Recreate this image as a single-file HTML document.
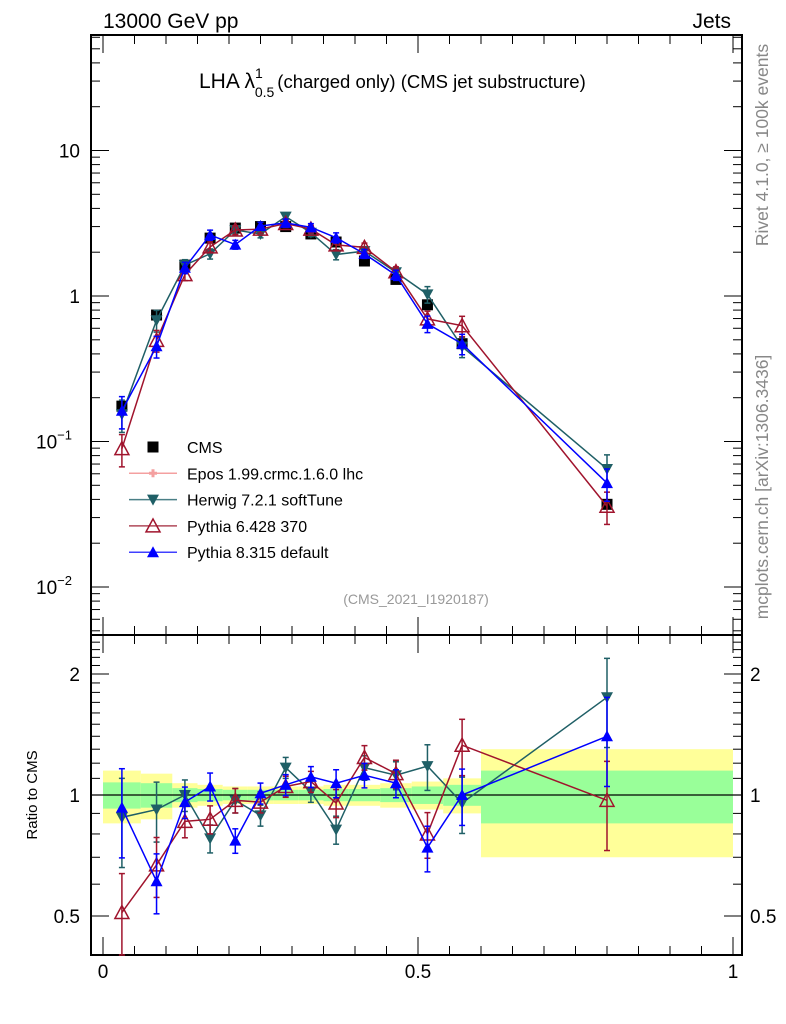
<!DOCTYPE html>
<html><head><meta charset="utf-8"><style>
body{margin:0;background:#fff;font-family:"Liberation Sans",sans-serif}
svg{display:block}
text{font-family:"Liberation Sans",sans-serif}
</style></head><body>
<svg id="c" width="786" height="1024" xmlns="http://www.w3.org/2000/svg"></svg>
<script>
const xCenters=[0.03,0.085,0.13,0.17,0.21,0.25,0.29,0.33,0.37,0.415,0.465,0.515,0.57,0.8];
const binEdges=[0,0.06,0.11,0.15,0.19,0.23,0.27,0.31,0.35,0.39,0.44,0.49,0.54,0.6,1.0];
const cmsValues=[0.175,0.74,1.63,2.5,2.93,3.0,3.0,2.67,2.35,1.74,1.3,0.87,0.47,0.037];
const herwigRatio=[0.88,0.92,1.0,0.78,0.97,0.89,1.17,1.02,0.82,1.17,1.12,1.18,0.955,1.75];
const py6Ratio=[0.51,0.67,0.86,0.87,0.97,0.96,1.05,1.08,0.955,1.24,1.13,0.8,1.33,0.97];
const py8Ratio=[0.93,0.61,0.96,1.05,0.77,1.01,1.06,1.11,1.07,1.12,1.07,0.74,1.0,1.4];
const modelErr=[0.25,0.17,0.09,0.08,0.07,0.06,0.06,0.06,0.08,0.07,0.08,0.13,0.16,0.25];
const yellowHalf=[0.15,0.13,0.07,0.06,0.05,0.05,0.05,0.05,0.06,0.06,0.07,0.08,0.1,0.3];
const greenHalf=[0.075,0.07,0.04,0.035,0.03,0.03,0.03,0.03,0.035,0.035,0.04,0.05,0.06,0.15];
const mainTicks=[{v:10,t:"10"},{v:1,t:"1"},{v:0.1,t:"10",e:"−1"},{v:0.01,t:"10",e:"−2"}];
const ratioTicks=[0.5,1,2];
const xTicks=[0,0.5,1];

const NS="http://www.w3.org/2000/svg";
const svg=document.getElementById('c');
const L=91,R=742,T=35,M=635,B=955;
const X=v=>103+630*v;
const Ym=v=>296-145.5*Math.log10(v);
const Yr=v=>795-121*Math.log2(v);
function el(tag,attrs,parent){const e=document.createElementNS(NS,tag);for(const k in attrs)e.setAttribute(k,attrs[k]);(parent||svg).appendChild(e);return e;}
function txt(s,attrs,parent){const e=el('text',attrs,parent);e.textContent=s;return e;}

const bands=el('g',{});


for(let i=0;i<xCenters.length;i++){
  const x0=X(binEdges[i]),x1=X(binEdges[i+1]);
  const y=el('rect',{x:x0,y:Yr(1+yellowHalf[i]),width:x1-x0,height:Yr(1-yellowHalf[i])-Yr(1+yellowHalf[i]),fill:'#ffff99'},bands);
  
  
  const g=el('rect',{x:x0,y:Yr(1+greenHalf[i]),width:x1-x0,height:Yr(1-greenHalf[i])-Yr(1+greenHalf[i]),fill:'#99ff99'},bands);
  
  
}
el('line',{x1:L,x2:R,y1:Yr(1),y2:Yr(1),stroke:'#000','stroke-width':1.2});

const f1=el('rect',{x:L,y:T,width:R-L,height:M-T,fill:'none',stroke:'#000','stroke-width':2});


const f2=el('rect',{x:L,y:M,width:R-L,height:B-M,fill:'none',stroke:'#000','stroke-width':2});



for(let d=-3;d<=2;d++){for(let k=1;k<10;k++){const v=k*Math.pow(10,d);const y=Ym(v);if(y<T||y>M)continue;const len=k==1?18:9;
el('line',{x1:L,x2:L+len,y1:y,y2:y,stroke:'#000','stroke-width':1});el('line',{x1:R,x2:R-len,y1:y,y2:y,stroke:'#000','stroke-width':1});}}
mainTicks.forEach(t=>{const g=txt(t.t,{x:t.e?72:80,y:Ym(t.v)+7,'font-size':19,'text-anchor':'end'});


if(t.e){const s=el('tspan',{'font-size':13,dy:-9},g);s.textContent=t.e;}});
for(let v=0.4;v<=2.5;v+=0.1){const y=Yr(v);if(y<M||y>B)continue;const major=[0.5,1,2].some(m=>Math.abs(m-v)<1e-6);const len=major?18:9;
el('line',{x1:L,x2:L+len,y1:y,y2:y,stroke:'#000','stroke-width':1});el('line',{x1:R,x2:R-len,y1:y,y2:y,stroke:'#000','stroke-width':1});}
ratioTicks.forEach(v=>{const a=txt(String(v),{x:80,y:Yr(v)+7,'font-size':19,'text-anchor':'end'});


const b=txt(String(v),{x:750,y:Yr(v)+7,'font-size':19});

});
for(let i=0;i<=20;i++){const v=i*0.05;const x=X(v);const len=i%10==0?18:9;
el('line',{x1:x,x2:x,y1:M,y2:M-len,stroke:'#000','stroke-width':1});el('line',{x1:x,x2:x,y1:M,y2:M+len,stroke:'#000','stroke-width':1});
el('line',{x1:x,x2:x,y1:B,y2:B-len,stroke:'#000','stroke-width':1});el('line',{x1:x,x2:x,y1:T,y2:T+len,stroke:'#000','stroke-width':1});}
xTicks.forEach(v=>{const a=txt(String(v),{x:X(v),y:978,'font-size':19,'text-anchor':'middle'});

});

function marker(type,x,y,col,g){
  if(type=='sq')el('rect',{x:x-5.5,y:y-5.5,width:11,height:11,fill:'#000'},g);
  else if(type=='down')el('path',{d:`M${x-6},${y-5}L${x+6},${y-5}L${x},${y+6}Z`,fill:col},g);
  else if(type=='upopen')el('path',{d:`M${x-7},${y+6}L${x+7},${y+6}L${x},${y-7}Z`,fill:'none',stroke:col,'stroke-width':1.5},g);
  else if(type=='up')el('path',{d:`M${x-6},${y+5}L${x+6},${y+5}L${x},${y-6}Z`,fill:col},g);
  else if(type=='cross')el('path',{d:`M${x-4},${y}h8M${x},${y-4}v8`,stroke:col,'stroke-width':3},g);
}
function series(name,ratio,col,type){
  const g=el('g',{});
  
  
  const pm=[],pr=[];
  for(let i=0;i<xCenters.length;i++){
    const x=X(xCenters[i]);const vm=cmsValues[i]*ratio[i];
    pm.push(x+','+Ym(vm));pr.push(x+','+Yr(ratio[i]));
  }
  el('polyline',{points:pm.join(' '),fill:'none',stroke:col,'stroke-width':1.5},g);
  el('polyline',{points:pr.join(' '),fill:'none',stroke:col,'stroke-width':1.5},g);
  for(let i=0;i<xCenters.length;i++){
    const x=X(xCenters[i]);const vm=cmsValues[i]*ratio[i];const e=modelErr[i];
    [[Ym,vm,M],[Yr,ratio[i],B]].forEach(([f,v,lim])=>{
      const y1=f(v*(1+e)),y2=Math.min(f(v*(1-e)),lim);
      el('line',{x1:x,x2:x,y1:y1,y2:y2,stroke:col,'stroke-width':1.5},g);
      el('line',{x1:x-3,x2:x+3,y1:y1,y2:y1,stroke:col,'stroke-width':1.5},g);
      el('line',{x1:x-3,x2:x+3,y1:y2,y2:y2,stroke:col,'stroke-width':1.5},g);
      marker(type,x,f(v),col,g);
    });
  }
}
const cg=el('g',{});


for(let i=0;i<xCenters.length;i++){const x=X(xCenters[i]);const y=Ym(cmsValues[i]);
el('line',{x1:x,x2:x,y1:Ym(cmsValues[i]*1.04),y2:Ym(cmsValues[i]*0.96),stroke:'#000','stroke-width':1.5},cg);marker('sq',x,y,'#000',cg);}
series('herwig',herwigRatio,'#1f5f66','down');
series('pythia6',py6Ratio,'#a0142d','upopen');
series('pythia8',py8Ratio,'#0000ff','up');

const leg=[["CMS",null,'sq','#000'],["Epos 1.99.crmc.1.6.0 lhc",'#f4a0a0','cross','#f4a0a0'],["Herwig 7.2.1 softTune",'#4a7f86','down','#1f5f66'],["Pythia 6.428 370",'#b04a5a','upopen','#a0142d'],["Pythia 8.315 default",'#4040ff','up','#0000ff']];
leg.forEach((l,i)=>{const y=447+26.3*i;const g=el('g',{});


if(l[1])el('line',{x1:129,x2:177,y1:y,y2:y,stroke:l[1],'stroke-width':1.5},g);
marker(l[2],153,y,l[3],g);
txt(l[0],{x:187,y:y+6,'font-size':16},g);});

const t1=txt("13000 GeV pp",{x:103,y:28,'font-size':21});


const t2=txt("Jets",{x:731,y:28,'font-size':21,'text-anchor':'end'});


const t3=el('text',{x:199,y:88,'font-size':21});


t3.innerHTML='LHA λ<tspan font-size="14" dy="-10">1</tspan><tspan font-size="14" dx="-8" dy="19">0.5</tspan><tspan font-size="18.5" dy="-9" dx="3">(charged only) (CMS jet substructure)</tspan>';
const t4=txt("(CMS_2021_I1920187)",{x:416,y:604,'font-size':14,fill:'#999','text-anchor':'middle'});


const t5=txt("Ratio to CMS",{x:0,y:0,'font-size':15,'text-anchor':'middle',transform:'translate(37,795) rotate(-90)'});


const t6=txt("Rivet 4.1.0, ≥ 100k events",{x:0,y:0,'font-size':17.5,fill:'#888','text-anchor':'middle',transform:'translate(768,145) rotate(-90)'});


const t7=txt("mcplots.cern.ch [arXiv:1306.3436]",{x:0,y:0,'font-size':17.5,fill:'#888','text-anchor':'middle',transform:'translate(768,487) rotate(-90)'});


</script>
</body></html>
